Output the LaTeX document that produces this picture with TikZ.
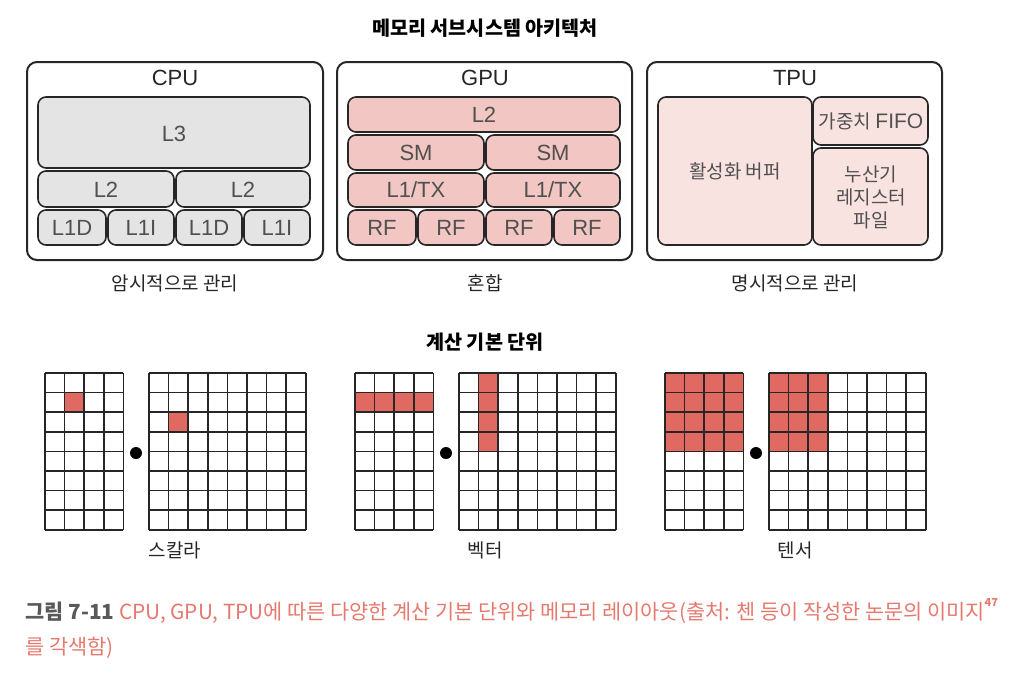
\documentclass[tikz,border=0pt]{standalone}
\usepackage{fontspec}
\setmainfont{Noto Sans CJK KR}
\newfontfamily\latinfont{Liberation Sans}

\definecolor{cachegray}{HTML}{E4E4E4}
\definecolor{gpupink}{HTML}{F2C6C2}
\definecolor{tpupink}{HTML}{F9E3E1}
\definecolor{cellred}{HTML}{E06A62}
\definecolor{captred}{HTML}{E5796E}
\definecolor{inktext}{HTML}{505050}

\tikzset{
  chip/.style={draw=black!85, line width=1pt, rounded corners=5pt},
  unit/.style={draw=black!85, line width=0.8pt, rounded corners=4pt},
  lbl/.style={font=\fontsize{9.5}{11}\selectfont, text=black!85},
  chiplbl/.style={font=\latinfont\fontsize{11}{12}\selectfont, text=black!85},
  unitlbl/.style={font=\latinfont\fontsize{11}{12}\selectfont, text=inktext},
  korlbl/.style={font=\fontsize{9.5}{11.5}\selectfont, text=inktext, align=center},
  head/.style={font=\bfseries\fontsize{9.8}{11}\selectfont},
  gridline/.style={draw=black!85, line width=0.75pt}
}

\begin{document}
\begin{tikzpicture}[x=0.5pt,y=-0.5pt]
\useasboundingbox (0,0) rectangle (1014,676);

\node[head] (memtitle) at (485,28) {메모리 서브시스템 아키텍처};

% CPU
\draw[chip] (27,62) rectangle (323,260);
\node[chiplbl] (cpu) at (175,78) {CPU};
\draw[unit, fill=cachegray] (38,97) rectangle (310,168);
\draw[unit, fill=cachegray] (38,171) rectangle (174,207);
\draw[unit, fill=cachegray] (176,171) rectangle (310,207);
\draw[unit, fill=cachegray] (38,210) rectangle (106,245);
\draw[unit, fill=cachegray] (108,210) rectangle (174,245);
\draw[unit, fill=cachegray] (176,210) rectangle (242,245);
\draw[unit, fill=cachegray] (244,210) rectangle (310,245);
\node[unitlbl] (cpul3) at (174,134) {L3};
\node[unitlbl] (cpul2a) at (106,190) {L2};
\node[unitlbl] (cpul2b) at (243,190) {L2};
\node[unitlbl] (cpul1da) at (72,228) {L1D};
\node[unitlbl] (cpul1ia) at (141,228) {L1I};
\node[unitlbl] (cpul1db) at (209,228) {L1D};
\node[unitlbl] (cpul1ib) at (277,228) {L1I};
\node[lbl] (cpunote) at (175,283) {암시적으로 관리};

% GPU
\begin{scope}[shift={(310,0)}]
\draw[chip] (27,62) rectangle (322,260);
\node[chiplbl] (gpu) at (175,78) {GPU};
\draw[unit, fill=gpupink] (38,97) rectangle (310,132);
\draw[unit, fill=gpupink] (38,135) rectangle (174,170);
\draw[unit, fill=gpupink] (176,135) rectangle (310,170);
\draw[unit, fill=gpupink] (38,173) rectangle (174,207);
\draw[unit, fill=gpupink] (176,173) rectangle (310,207);
\draw[unit, fill=gpupink] (38,210) rectangle (106,245);
\draw[unit, fill=gpupink] (108,210) rectangle (174,245);
\draw[unit, fill=gpupink] (176,210) rectangle (242,245);
\draw[unit, fill=gpupink] (244,210) rectangle (310,245);
\node[unitlbl] (gpul2) at (174,115) {L2};
\node[unitlbl] (gpusma) at (106,153) {SM};
\node[unitlbl] (gpusmb) at (243,153) {SM};
\node[unitlbl] (gpul1a) at (106,190) {L1/TX};
\node[unitlbl] (gpul1b) at (243,190) {L1/TX};
\node[unitlbl] (gpurfa) at (72,228) {RF};
\node[unitlbl] (gpurfb) at (141,228) {RF};
\node[unitlbl] (gpurfc) at (209,228) {RF};
\node[unitlbl] (gpurfd) at (277,228) {RF};
\node[lbl] (gpunote) at (175,283) {혼합};
\end{scope}

% TPU
\begin{scope}[shift={(620,0)}]
\draw[chip] (27,62) rectangle (322,260);
\node[chiplbl] (tpu) at (175,78) {TPU};
\draw[unit, fill=tpupink] (38,97) rectangle (192,245);
\draw[unit, fill=tpupink] (193,97) rectangle (308,145);
\draw[unit, fill=tpupink] (193,148) rectangle (308,245);
\node[korlbl] (actbuf) at (115,171) {활성화 버퍼};
\node[korlbl] (wfifo) at (251,121) {가중치 {\latinfont\fontsize{10.5}{12}\selectfont FIFO}};
\node[korlbl] (accreg) at (251,197) {누산기\\레지스터\\파일};
\node[lbl] (tpunote) at (175,283) {명시적으로 관리};
\end{scope}

\node[head] (comptitle) at (485,342) {계산 기본 단위};

% scalar
\begin{scope}[shift={(45,373)}]
\fill[cellred] (19.6,19.6) rectangle (39.2,39.2);
\fill[cellred] (123.6,39.2) rectangle (143.2,58.8);
\foreach \i in {0,...,4} \draw[gridline] (\i*19.6,0) -- (\i*19.6,156.8);
\foreach \j in {0,...,8} \draw[gridline] (0,\j*19.6) -- (78.4,\j*19.6);
\foreach \i in {0,...,8} \draw[gridline] (104+\i*19.6,0) -- (104+\i*19.6,156.8);
\foreach \j in {0,...,8} \draw[gridline] (104,\j*19.6) -- (260.8,\j*19.6);
\fill (91,80) circle (3pt);
\node[lbl] (scalar) at (130,177) {스칼라};
\end{scope}

% vector
\begin{scope}[shift={(355,373)}]
\fill[cellred] (0,19.6) rectangle (78.4,39.2);
\fill[cellred] (123.6,0) rectangle (143.2,78.4);
\foreach \i in {0,...,4} \draw[gridline] (\i*19.6,0) -- (\i*19.6,156.8);
\foreach \j in {0,...,8} \draw[gridline] (0,\j*19.6) -- (78.4,\j*19.6);
\foreach \i in {0,...,8} \draw[gridline] (104+\i*19.6,0) -- (104+\i*19.6,156.8);
\foreach \j in {0,...,8} \draw[gridline] (104,\j*19.6) -- (260.8,\j*19.6);
\fill (91,80) circle (3pt);
\node[lbl] (vector) at (130,177) {벡터};
\end{scope}

% tensor
\begin{scope}[shift={(665,373)}]
\fill[cellred] (0,0) rectangle (78.4,78.4);
\fill[cellred] (104,0) rectangle (162.8,78.4);
\foreach \i in {0,...,4} \draw[gridline] (\i*19.6,0) -- (\i*19.6,156.8);
\foreach \j in {0,...,8} \draw[gridline] (0,\j*19.6) -- (78.4,\j*19.6);
\foreach \i in {0,...,8} \draw[gridline] (104+\i*19.6,0) -- (104+\i*19.6,156.8);
\foreach \j in {0,...,8} \draw[gridline] (104,\j*19.6) -- (260.8,\j*19.6);
\fill (91,80) circle (3pt);
\node[lbl] (tensor) at (130,177) {텐서};
\end{scope}

% caption
\node[anchor=west, inner sep=0pt, font=\fontsize{10.4}{12}\selectfont] (capa) at (25,611)
  {\textcolor{black!65}{\bfseries 그림 7-11} \textcolor{captred}{CPU, GPU, TPU에 따른 다양한 계산 기본 단위와 메모리 레이아웃(출처: 첸 등이 작성한 논문의 이미지\raisebox{1.2ex}{\bfseries\fontsize{5.5}{6}\selectfont 47}}};
\node[anchor=west, inner sep=0pt, font=\fontsize{10.4}{12}\selectfont, text=captred] (capb) at (25,648) {를 각색함)};
\end{tikzpicture}
\end{document}
